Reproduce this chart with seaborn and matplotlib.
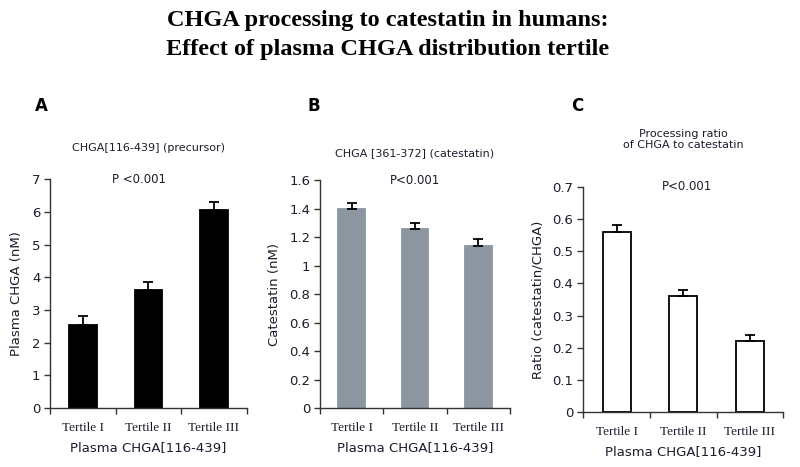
import numpy as np
import pandas as pd
import matplotlib
matplotlib.use("Agg")
import matplotlib.pyplot as plt
from matplotlib.ticker import MultipleLocator, FixedLocator, NullFormatter
import seaborn as sns

# data
tertiles = ["Tertile I", "Tertile II", "Tertile III"]
chga_mean = [2.55, 3.6, 6.05]
chga_err = [0.27, 0.25, 0.25]
cst_mean = [1.40, 1.255, 1.135]
cst_err = [0.04, 0.045, 0.055]
ratio_mean = [0.56, 0.36, 0.22]
ratio_err = [0.022, 0.02, 0.018]

sns.set_theme(style="ticks")
plt.rcParams["font.family"] = ["DejaVu Sans"]
txt = "#1c1c2e"

fig = plt.figure(figsize=(8, 4.67), dpi=100)

fig.text(0.485, 0.957, "CHGA processing to catestatin in humans:", ha="center", va="center",
         fontsize=17.5, fontweight="bold", family="Liberation Serif", color="black")
fig.text(0.485, 0.893, "Effect of plasma CHGA distribution tertile", ha="center", va="center",
         fontsize=17.5, fontweight="bold", family="Liberation Serif", color="black")

panels = [
    dict(rect=[0.0625, 0.1263, 0.246, 0.490], mean=chga_mean, err=chga_err,
         face="black", edge="black", ymax=7, step=1, ylabel="Plasma CHGA (nM)",
         sub="CHGA[116-439] (precursor)", sy=1.135, p="P <0.001", px=0.45,
         letter="A", lx=0.052, xl=-0.16),
    dict(rect=[0.400, 0.1263, 0.2375, 0.488], mean=cst_mean, err=cst_err,
         face="#8b96a1", edge="#8b96a1", ymax=1.6, step=0.2, ylabel="Catestatin (nM)",
         sub="CHGA [361-372] (catestatin)", sy=1.12, p="P<0.001", px=0.5,
         letter="B", lx=0.392, xl=-0.185),
    dict(rect=[0.729, 0.1178, 0.250, 0.482], mean=ratio_mean, err=ratio_err,
         face="white", edge="black", ymax=0.7, step=0.1, ylabel="Ratio (catestatin/CHGA)",
         sub="Processing ratio\nof CHGA to catestatin", sy=1.21, p="P<0.001", px=0.52,
         letter="C", lx=0.722, xl=-0.17),
]

for pn in panels:
    ax = fig.add_axes(pn["rect"])
    df = pd.DataFrame({"tertile": tertiles, "value": pn["mean"]})
    sns.barplot(data=df, x="tertile", y="value", ax=ax, color=pn["face"], width=0.42,
                edgecolor=pn["edge"], linewidth=1.3, saturation=1)
    xs = [p.get_x() + p.get_width() / 2 for p in ax.patches]
    ax.errorbar(xs, pn["mean"], yerr=[np.zeros(3), pn["err"]], fmt="none",
                ecolor="black", elinewidth=1.3, capsize=3.5, capthick=1.3)
    ax.set_xlim(-0.5, 2.5)
    ax.set_ylim(0, pn["ymax"])
    ax.yaxis.set_major_locator(MultipleLocator(pn["step"]))
    ax.yaxis.set_major_formatter(plt.FuncFormatter(lambda v, _: f"{v:g}"))
    ax.xaxis.set_minor_locator(FixedLocator([-0.5, 0.5, 1.5, 2.5]))
    ax.xaxis.set_minor_formatter(NullFormatter())
    ax.tick_params(axis="x", which="major", length=0, pad=10)
    ax.tick_params(axis="x", which="minor", length=4, width=1, color="#333333", direction="out")
    ax.tick_params(axis="y", length=4, width=1, color="#333333", labelsize=9.5, labelcolor=txt, pad=3)
    for lab in ax.get_xticklabels():
        lab.set_family("Liberation Serif")
        lab.set_fontsize(9.5)
        lab.set_color(txt)
    sns.despine(ax=ax)
    for s in ["left", "bottom"]:
        ax.spines[s].set_linewidth(1)
        ax.spines[s].set_color("#333333")
    ax.set_xlabel("Plasma CHGA[116-439]", fontsize=9.5, color=txt, labelpad=5)
    ax.set_ylabel(pn["ylabel"], fontsize=9.5, color=txt, labelpad=6)
    ax.text(pn["px"], 1.0, pn["p"], transform=ax.transAxes, ha="center", va="center",
            fontsize=8.5, color=txt)
    ax.text(0.5, pn["sy"], pn["sub"], transform=ax.transAxes,
            ha="center", va="center", fontsize=8, color=txt, linespacing=1.15)
    fig.text(pn["lx"], 0.773, pn["letter"], ha="center", va="center",
             fontsize=12, fontweight="bold", color="black")

fig.savefig("out.png", dpi=100)
